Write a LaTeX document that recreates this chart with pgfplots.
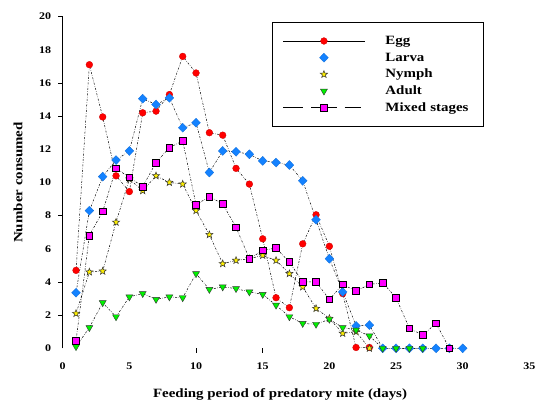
\documentclass[border=0pt]{standalone}
\usepackage{fontspec}
\newfontfamily\lab[FakeStretch=1.18]{Liberation Serif}
\usepackage{pgfplots}
\pgfplotsset{compat=1.18}
\definecolor{myblue}{RGB}{20,130,255}
\definecolor{mygreen}{RGB}{0,240,0}
\definecolor{myyellow}{RGB}{255,240,0}
\definecolor{mymag}{RGB}{255,0,255}
\pgfdeclareplotmark{fstar}{%
  \pgfpathmoveto{\pgfpointpolar{90}{\pgfplotmarksize}}%
  \pgfpathlineto{\pgfpointpolar{126}{0.42\pgfplotmarksize}}%
  \pgfpathlineto{\pgfpointpolar{162}{\pgfplotmarksize}}%
  \pgfpathlineto{\pgfpointpolar{198}{0.42\pgfplotmarksize}}%
  \pgfpathlineto{\pgfpointpolar{234}{\pgfplotmarksize}}%
  \pgfpathlineto{\pgfpointpolar{270}{0.42\pgfplotmarksize}}%
  \pgfpathlineto{\pgfpointpolar{306}{\pgfplotmarksize}}%
  \pgfpathlineto{\pgfpointpolar{342}{0.42\pgfplotmarksize}}%
  \pgfpathlineto{\pgfpointpolar{18}{\pgfplotmarksize}}%
  \pgfpathlineto{\pgfpointpolar{54}{0.42\pgfplotmarksize}}%
  \pgfpathclose\pgfusepathqfillstroke}
\tikzset{serline/.style={black, line width=0.5pt, dash pattern=on 2pt off 1.5pt on 0.5pt off 1.5pt}}
\pgfplotsset{
  leg solid/.style={legend image code/.code={\path[draw=none,fill=none] (0bp,-1bp) rectangle (113bp,1bp); \draw[black, solid, line width=0.6pt] (10.7bp,0bp) -- (92.3bp,0bp); \path[##1, draw=none] plot coordinates {(51.5bp,0bp)};}},
  leg mark/.style={legend image code/.code={\path[draw=none,fill=none] (0bp,-1bp) rectangle (113bp,1bp); \path[##1, draw=none] plot coordinates {(51.5bp,0bp)};}},
  leg dash/.style={legend image code/.code={\path[draw=none,fill=none] (0bp,-1bp) rectangle (113bp,1bp); \draw[black, solid, line width=0.6pt] (10.7bp,0bp) -- (30.7bp,0bp) (38.7bp,0bp) -- (64.3bp,0bp) (72.3bp,0bp) -- (88.3bp,0bp); \path[##1, draw=none] plot coordinates {(51.5bp,0bp)};}},
}
\begin{document}
\begin{tikzpicture}
\begin{axis}[
  at={(0,0)}, anchor=south west, scale only axis,
  width=466.7bp, height=331.7bp,
  xmin=0, xmax=35, ymin=0, ymax=20,
  axis y line*=left, axis x line*=bottom,
  axis line style={-, line width=0.8pt},
  x axis line style={draw=none},
  xtick={0,5,...,35}, ytick={0,2,...,20},
  minor xtick={10,15}, minor ytick={2,4,8,14,16,20},
  major tick length=0pt, minor tick length=4.5bp, tick align=outside,
  minor tick style={draw=black, line width=0.6pt},
  tick label style={font=\lab\bfseries\fontsize{10.2}{12}\selectfont},
  xticklabel style={yshift=-11bp},
  yticklabel style={xshift=-8bp},
  /pgf/number format/assume math mode=true,
  xlabel={Feeding period of predatory mite (days)},
  ylabel={Number consumed},
  label style={font=\lab\bfseries\fontsize{12.7}{15}\selectfont},
  xlabel style={at={(axis description cs:0.4657,-0.1377)}, anchor=center},
  ylabel style={at={(axis description cs:-0.0958,0.5)}, anchor=center},
  clip=false,
  legend style={at={(axis cs:15.7,19.66)}, anchor=north west, draw=black, line width=0.8pt,
    inner xsep=0pt, inner ysep=10bp, row sep=0pt,
    font=\lab\bfseries\fontsize{12.7}{15}\selectfont,
    cells={anchor=west},
    nodes={inner xsep=0pt, inner ysep=1.85bp, text height=10bp, text depth=3bp, text width=98bp}},
]
\addplot[serline, mark=*, mark size=3.4bp, mark options={solid, fill=red, draw=red!80!black, line width=0.3pt}, leg solid]
  coordinates {(1,4.7)(2,17.1)(3,13.95)(4,10.4)(5,9.45)(6,14.2)(7,14.3)(8,15.3)(9,17.6)(10,16.6)(11,13.0)(12,12.85)(13,10.85)(14,9.9)(15,6.6)(16,3.05)(17,2.45)(18,6.3)(19,8.05)(20,6.15)(21,3.3)(22,0.05)(23,0.05)};
\addlegendentry{Egg}
\addplot[serline, mark=diamond*, mark size=4.5bp, mark options={solid, xscale=1.3, fill=myblue, draw=myblue!85!black, line width=0.3pt}, leg mark]
  coordinates {(1,3.35)(2,8.3)(3,10.35)(4,11.35)(5,11.9)(6,15.05)(7,14.7)(8,15.1)(9,13.3)(10,13.6)(11,10.6)(12,11.9)(13,11.85)(14,11.7)(15,11.3)(16,11.2)(17,11.05)(18,10.1)(19,7.75)(20,5.4)(21,3.4)(22,1.35)(23,1.4)(24,0)(25,0)(26,0)(27,0)(28,0)(29,0)(30,0)};
\addlegendentry{Larva}
\addplot[serline, mark=fstar, mark size=3.8bp, mark options={solid, fill=myyellow, draw=black!80, line width=0.5pt}, leg mark]
  coordinates {(1,2.1)(2,4.6)(3,4.65)(4,7.6)(5,10.2)(6,9.5)(7,10.4)(8,10.0)(9,9.9)(10,8.3)(11,6.85)(12,5.1)(13,5.3)(14,5.4)(15,5.6)(16,5.3)(17,4.5)(18,3.7)(19,2.4)(20,1.8)(21,0.9)(22,1.0)(23,0)};
\addlegendentry{Nymph}
\addplot[serline, mark=triangle*, mark size=4bp, mark options={solid, rotate=180, fill=mygreen, draw=black!80, line width=0.4pt}, leg mark]
  coordinates {(1,0.1)(2,1.25)(3,2.75)(4,1.9)(5,3.1)(6,3.3)(7,2.95)(8,3.1)(9,3.05)(10,4.5)(11,3.55)(12,3.7)(13,3.6)(14,3.4)(15,3.25)(16,2.6)(17,1.9)(18,1.5)(19,1.45)(20,1.75)(21,1.25)(22,1.1)(23,0.75)(24,0)(25,0)(26,0)(27,0)};
\addlegendentry{Adult}
\addplot[serline, mark=square*, mark size=3.3bp, mark options={solid, fill=mymag, draw=black, line width=0.6pt}, leg dash]
  coordinates {(1,0.45)(2,6.8)(3,8.25)(4,10.85)(5,10.3)(6,9.75)(7,11.2)(8,12.1)(9,12.5)(10,8.65)(11,9.15)(12,8.7)(13,7.3)(14,5.4)(15,5.9)(16,6.05)(17,5.2)(18,4.0)(19,4.0)(20,2.95)(21,3.85)(22,3.45)(23,3.85)(24,3.95)(25,3.05)(26,1.2)(27,0.8)(28,1.5)(29,0)};
\addlegendentry{Mixed stages}
\end{axis}
\pgfresetboundingbox
\path (-62.7bp,-54.7bp) rectangle (472.3bp,348.3bp);
\end{tikzpicture}
\end{document}
